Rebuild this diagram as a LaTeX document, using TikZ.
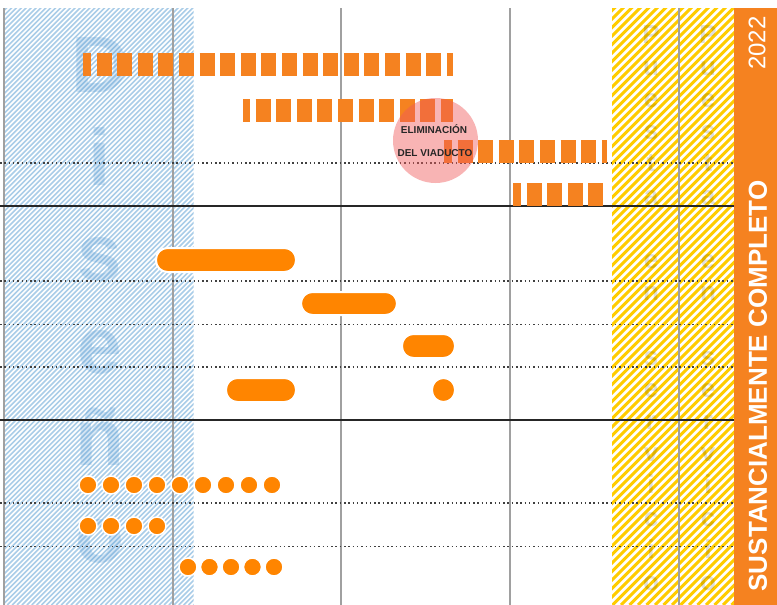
\documentclass[tikz,border=0pt]{standalone}
\usepackage{fontspec}
\setmainfont{Liberation Sans}
\begin{document}
\begin{tikzpicture}[x=1pt,y=-1pt]
\definecolor{dashor}{RGB}{245,130,32}
\definecolor{baror}{RGB}{255,133,0}
\definecolor{bandor}{RGB}{245,130,32}
\definecolor{hatchblue}{RGB}{170,205,232}
\definecolor{hatchyel}{RGB}{255,204,0}
\definecolor{gridgray}{RGB}{160,160,160}
\definecolor{pinkc}{RGB}{240,90,90}
\definecolor{letblue}{RGB}{60,140,205}
\tikzset{
  dashrow/.style={dashor, line width=23, dash pattern=on 15 off 5.6},
  pill/.style={fill=baror, draw=white, line width=2, rounded corners=11.5},
  dotc/.style={fill=baror, draw=white, line width=1.5},
  bigletter/.style={anchor=base, text=letblue, text opacity=0.22, font=\fontsize{80}{80}\selectfont\bfseries},
  smallletter/.style={anchor=base, text=black, text opacity=0.13, font=\fontsize{26}{26}\selectfont\bfseries},
  dotline/.style={line width=1.5, dash pattern=on 1.5 off 2.8, black!75},
  darkline/.style={line width=2.5, black!85},
  gridline/.style={gridgray, line width=2},
  lbl/.style={anchor=base, text=black!85, font=\fontsize{10}{10}\selectfont\bfseries}
}
\useasboundingbox (0,0) rectangle (777,605);
\fill[white] (0,0) rectangle (777,605);
% blue hatch
\begin{scope}
\clip (5,8) rectangle (193.5,605);
\foreach \i in {0,...,170} {\draw[hatchblue, line width=1.6] ({5+\i*4.9-620},605) -- ++(620,-620);}
\end{scope}
% yellow hatch
\begin{scope}
\clip (612,8) rectangle (734,605);
\foreach \i in {0,...,90} {\draw[hatchyel, line width=3] ({612+\i*8.5-620},605) -- ++(620,-620);}
\end{scope}
% big letters
\node[bigletter] (lD) at (100,92) {D};
\node[bigletter] (li) at (100,185) {i};
\node[bigletter] (ls) at (100,280) {s};
\node[bigletter] (le) at (100,373) {e};
\node[bigletter] (ln) at (100,465) {ñ};
\node[bigletter] (lo) at (100,562) {o};
% faint letters in the yellow columns
\foreach \c [count=\k] in {P,u,e,s,t,a,,e,n,,s,e,r,v,i,c,i,o} {
  \node[smallletter] (ya\k) at (651,{43+(\k-1)*32.2}) {\c};
  \node[smallletter] (yb\k) at (708,{43+(\k-1)*32.2}) {\c};
}
% grid
\foreach \x in {4,173,341,510,679} {\draw[gridline] (\x,8) -- (\x,605);}
\foreach \y in {163,281,324.5,367,503,546.5} {\draw[dotline] (0,\y) -- (734,\y);}
\draw[darkline] (0,206) -- (734,206);
\draw[darkline] (0,420) -- (734,420);
% band
\fill[bandor] (734,8) rectangle (777,605);
\node[rotate=90, text=white, font=\fontsize{24}{24}\selectfont] (yr) at (757,43) {2022};
\node[rotate=90, text=white, font=\fontsize{26}{26}\selectfont\bfseries] (sc) at (758,386) {SUSTANCIALMENTE COMPLETO};
% dashed rows
\draw[dashrow, dash phase=7] (83,64.5) -- (453,64.5);
\draw[dashrow, dash phase=8] (243,110) -- (453,110);
\draw[dashrow, dash phase=7] (444,151.5) -- (607,151.5);
\draw[dashrow, dash phase=7] (513,194.5) -- (607,194.5);
% pills
\draw[pill] (156,248) rectangle (296,272);
\draw[pill] (301,292) rectangle (397,315);
\draw[pill] (402,334) rectangle (455,358);
\draw[pill] (226,378) rectangle (296,402);
\draw[pill] (432,378) rectangle (455,402);
% dots
\foreach \x in {88,111,...,272} {\draw[dotc] (\x,485) circle (9);}
\foreach \x in {88,111,...,157} {\draw[dotc] (\x,526) circle (9);}
\foreach \x in {188,209.5,231,252.5,274} {\draw[dotc] (\x,567) circle (9);}
% circle
\fill[pinkc, fill opacity=0.45] (435.5,140.5) circle (42.5);
\node[lbl] (t1) at (434,133) {ELIMINACIÓN};
\node[lbl] (t2) at (435,156) {DEL VIADUCTO};
\end{tikzpicture}
\end{document}
